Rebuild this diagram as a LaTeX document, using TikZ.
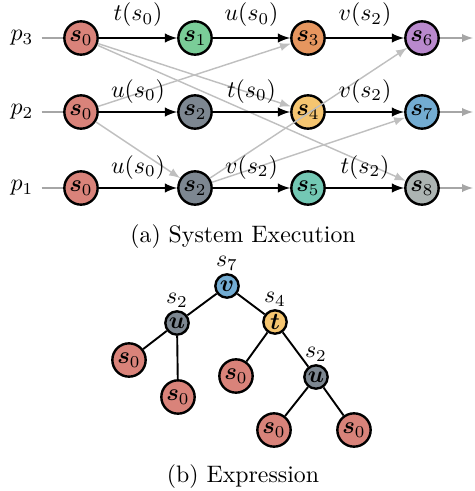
\documentclass[tikz,border=0pt]{standalone}
\usepackage{amsmath,bm}
\usetikzlibrary{arrows}

\definecolor{sred}{RGB}{217,131,122}
\definecolor{sgreen}{RGB}{122,205,152}
\definecolor{sslate}{RGB}{125,135,145}
\definecolor{sorange}{RGB}{230,150,95}
\definecolor{syellow}{RGB}{245,197,112}
\definecolor{steal}{RGB}{115,200,180}
\definecolor{spurple}{RGB}{185,137,205}
\definecolor{sblue}{RGB}{115,172,210}
\definecolor{sgrey}{RGB}{172,180,178}

\tikzset{
	state/.style={circle,draw=black,line width=1pt,minimum size=14pt,inner sep=0pt},
	op/.style={circle,draw=black,line width=1pt,minimum size=9.8pt,inner sep=0pt},
	trans/.style={-latex,line width=0.8pt},
	cross/.style={-latex,line width=0.6pt,black!25},
	lead/.style={line width=0.6pt,black!35},
	branch/.style={line width=0.8pt},
}

\begin{document}
\begin{tikzpicture}[x=0.42pt,y=-0.42pt]
	\useasboundingbox (0,0) rectangle (474,491);

	% process labels
	\node (p3) at (22,38) {$p_3$};
	\node (p2) at (22,112) {$p_2$};
	\node (p1) at (22,188) {$p_1$};

	% states
	\node[state,fill=sred] (a0) at (81,38) {$\bm{s}_0$};
	\node[state,fill=sgreen] (a1) at (195,38) {$\bm{s}_1$};
	\node[state,fill=sorange] (a3) at (308,38) {$\bm{s}_3$};
	\node[state,fill=spurple] (a6) at (422,38) {$\bm{s}_6$};

	\node[state,fill=sred] (b0) at (81,112) {$\bm{s}_0$};
	\node[state,fill=sslate] (b2) at (195,112) {$\bm{s}_2$};
	\node[state,fill=syellow] (b4) at (308,112) {$\bm{s}_4$};
	\node[state,fill=sblue] (b7) at (422,112) {$\bm{s}_7$};

	\node[state,fill=sred] (c0) at (81,188) {$\bm{s}_0$};
	\node[state,fill=sslate] (c2) at (195,188) {$\bm{s}_2$};
	\node[state,fill=steal] (c5) at (308,188) {$\bm{s}_5$};
	\node[state,fill=sgrey] (c8) at (422,188) {$\bm{s}_8$};

	\coordinate (e3) at (473,38);
	\coordinate (e2) at (473,112);
	\coordinate (e1) at (473,188);

	% cross edges
	\draw[cross] (a0) -- (b4);
	\draw[cross] (a0) -- (c8);
	\draw[cross] (b0) -- (a3);
	\draw[cross] (b0) -- (c2);
	\draw[cross] (c2) -- (a6);
	\draw[cross] (c2) -- (b7);

	% in and out
	\draw[lead] (p3) -- (a0);
	\draw[lead] (p2) -- (b0);
	\draw[lead] (p1) -- (c0);
	\draw[lead,-latex] (a6) -- (e3);
	\draw[lead,-latex] (b7) -- (e2);
	\draw[lead,-latex] (c8) -- (e1);

	% transitions
	\draw[trans] (a0) -- node[above=1pt] {$t(s_0)$} (a1);
	\draw[trans] (a1) -- node[above=1pt] {$u(s_0)$} (a3);
	\draw[trans] (a3) -- node[above=1pt] {$v(s_2)$} (a6);
	\draw[trans] (b0) -- node[above] {$u(s_0)$} (b2);
	\draw[trans] (b2) -- node[above] {$t(s_0)$} (b4);
	\draw[trans] (b4) -- node[above] {$v(s_2)$} (b7);
	\draw[trans] (c0) -- node[above] {$u(s_0)$} (c2);
	\draw[trans] (c2) -- node[above] {$v(s_2)$} (c5);
	\draw[trans] (c5) -- node[above] {$t(s_2)$} (c8);

	\node (capa) at (243,237) {(a) System Execution};

	% expression tree
	\node[op,fill=sblue,label={[inner sep=1pt]above:$s_7$}] (v) at (227,286) {$\bm{v}$};
	\node[op,fill=sslate,label={[inner sep=1pt]above:$s_2$}] (u1) at (177,323) {$\bm{u}$};
	\node[op,fill=syellow,label={[inner sep=1pt]above:$s_4$}] (t) at (275,322) {$\bm{t}$};
	\node[op,fill=sslate,label={[inner sep=1pt]above:$s_2$}] (u2) at (316,377) {$\bm{u}$};
	\node[state,fill=sred] (l1) at (129,360) {$\bm{s}_0$};
	\node[state,fill=sred] (l2) at (178,397) {$\bm{s}_0$};
	\node[state,fill=sred] (l3) at (236,376) {$\bm{s}_0$};
	\node[state,fill=sred] (l4) at (274,430) {$\bm{s}_0$};
	\node[state,fill=sred] (l5) at (354,430) {$\bm{s}_0$};

	\draw[branch] (v) -- (u1);
	\draw[branch] (v) -- (t);
	\draw[branch] (u1) -- (l1);
	\draw[branch] (u1) -- (l2);
	\draw[branch] (t) -- (l3);
	\draw[branch] (t) -- (u2);
	\draw[branch] (u2) -- (l4);
	\draw[branch] (u2) -- (l5);

	\node (capb) at (243,477) {(b) Expression};
\end{tikzpicture}
\end{document}
